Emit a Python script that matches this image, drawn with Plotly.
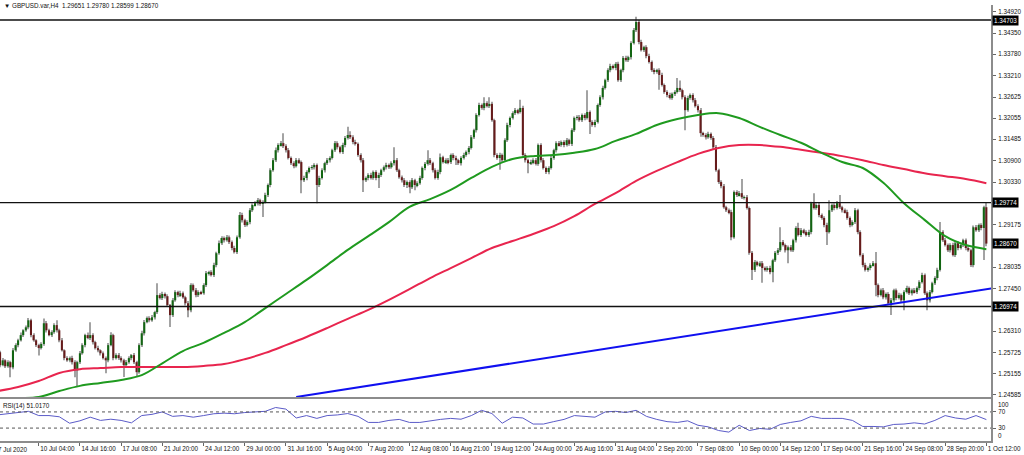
import plotly.graph_objects as go

# ---------------- data ----------------
first_open = 1.2565
closes = [
    1.2574, 1.2539, 1.2552, 1.2536, 1.2547, 1.2533, 1.2579, 1.2593, 1.2606, 1.2620, 1.2633, 1.2641, 1.2660, 1.2620, 1.2606, 1.2593,
    1.2585, 1.2596, 1.2652, 1.2633, 1.2620, 1.2628, 1.2647, 1.2633, 1.2606, 1.2579, 1.2558, 1.2552, 1.2558, 1.2547, 1.2525, 1.2547,
    1.2571, 1.2593, 1.2620, 1.2612, 1.2620, 1.2601, 1.2585, 1.2579, 1.2571, 1.2558, 1.2552, 1.2593, 1.2620, 1.2558, 1.2566, 1.2558,
    1.2552, 1.2539, 1.2547, 1.2558, 1.2566, 1.2547, 1.2520, 1.2593, 1.2625, 1.2655, 1.2666, 1.2660, 1.2668, 1.2682, 1.2728, 1.2720,
    1.2731, 1.2725, 1.2701, 1.2674, 1.2714, 1.2736, 1.2728, 1.2733, 1.2722, 1.2706, 1.2687, 1.2755, 1.2741, 1.2728, 1.2736, 1.2733,
    1.2755, 1.2787, 1.2790, 1.2782, 1.2809, 1.2841, 1.2868, 1.2882, 1.2876, 1.2884, 1.2871, 1.2855, 1.2844, 1.2884, 1.2944, 1.2930,
    1.2917, 1.2925, 1.2957, 1.2971, 1.2976, 1.2984, 1.2974, 1.2979, 1.2998, 1.3025, 1.3065, 1.3092, 1.3119, 1.3133, 1.3138, 1.3130,
    1.3119, 1.3098, 1.3084, 1.3076, 1.3092, 1.3087, 1.3038, 1.3044, 1.3060, 1.3071, 1.3073, 1.3079, 1.3025, 1.3044, 1.3065, 1.3084,
    1.3092, 1.3098, 1.3119, 1.3138, 1.3127, 1.3114, 1.3133, 1.3152, 1.3160, 1.3154, 1.3141, 1.3136, 1.3106, 1.3092, 1.3038, 1.3044,
    1.3052, 1.3044, 1.3060, 1.3044, 1.3052, 1.3065, 1.3073, 1.3079, 1.3073, 1.3084, 1.3092, 1.3065, 1.3046, 1.3038, 1.3025, 1.3033,
    1.3019, 1.3038, 1.3025, 1.3030, 1.3044, 1.3071, 1.3082, 1.3092, 1.3084, 1.3065, 1.3044, 1.3060, 1.3100, 1.3087, 1.3092, 1.3087,
    1.3106, 1.3098, 1.3092, 1.3084, 1.3098, 1.3106, 1.3114, 1.3125, 1.3154, 1.3173, 1.3214, 1.3241, 1.3233, 1.3246, 1.3238, 1.3244,
    1.3200, 1.3106, 1.3098, 1.3106, 1.3092, 1.3146, 1.3187, 1.3206, 1.3219, 1.3227, 1.3222, 1.3233, 1.3106, 1.3092, 1.3084, 1.3087,
    1.3092, 1.3082, 1.3133, 1.3092, 1.3071, 1.3060, 1.3071, 1.3098, 1.3119, 1.3138, 1.3133, 1.3141, 1.3133, 1.3146, 1.3136, 1.3173,
    1.3206, 1.3208, 1.3200, 1.3214, 1.3206, 1.3222, 1.3195, 1.3187, 1.3195, 1.3241, 1.3262, 1.3287, 1.3308, 1.3335, 1.3346, 1.3341,
    1.3352, 1.3308, 1.3335, 1.3368, 1.3362, 1.3370, 1.3408, 1.3443, 1.3465, 1.3411, 1.3389, 1.3397, 1.3373, 1.3357, 1.3335, 1.3330,
    1.3335, 1.3322, 1.3295, 1.3276, 1.3268, 1.3260, 1.3271, 1.3276, 1.3287, 1.3281, 1.3262, 1.3227, 1.3260, 1.3268, 1.3254, 1.3238,
    1.3227, 1.3165, 1.3160, 1.3154, 1.3163, 1.3152, 1.3127, 1.3065, 1.3033, 1.3022, 1.2965, 1.2957, 1.2952, 1.2884, 1.3006, 1.2998,
    1.3003, 1.2992, 1.2992, 1.2963, 1.2842, 1.2796, 1.2817, 1.2809, 1.2814, 1.2801, 1.2796, 1.2801, 1.2790, 1.2822, 1.2842, 1.2849,
    1.2871, 1.2863, 1.2849, 1.2857, 1.2849, 1.2876, 1.2909, 1.2890, 1.2903, 1.2898, 1.2890, 1.2898, 1.2976, 1.2963, 1.2971, 1.2944,
    1.2936, 1.2917, 1.2898, 1.2957, 1.2971, 1.2963, 1.2976, 1.2965, 1.2957, 1.2952, 1.2936, 1.2917, 1.2925, 1.2957, 1.2898, 1.2836,
    1.2809, 1.2796, 1.2801, 1.2809, 1.2814, 1.2755, 1.2728, 1.2741, 1.2722, 1.2731, 1.2706, 1.2714, 1.2741, 1.2720, 1.2728, 1.2714,
    1.2736, 1.2747, 1.2733, 1.2741, 1.2736, 1.2747, 1.2763, 1.2782, 1.2733, 1.2714, 1.2736, 1.2760, 1.2774, 1.2796, 1.2898, 1.2876,
    1.2863, 1.2849, 1.2863, 1.2836, 1.2868, 1.2855, 1.2863, 1.2876, 1.2855, 1.2849, 1.2809, 1.2911, 1.2903, 1.2917, 1.2909, 1.29651,
    1.28670,
]
upper_wick_pips = [
    5, 4, 6, 3, 5, 4, 6, 5, 4, 7, 3, 5, 6, 4, 5, 3,
    4, 5, 13, 6, 4, 5, 5, 13, 4, 6, 3, 5, 4, 6, 5, 4,
    6, 5, 4, 7, 35, 5, 4, 6, 3, 5, 4, 6, 8, 4, 5, 6,
    5, 4, 6, 5, 3, 6, 4, 5, 7, 6, 4, 5, 6, 4, 32, 5,
    6, 4, 5, 3, 6, 5, 4, 7, 5, 4, 6, 5, 4, 6, 5, 4,
    5, 6, 4, 5, 6, 4, 7, 5, 4, 6, 5, 4, 6, 5, 8, 6,
    4, 5, 6, 4, 5, 6, 4, 5, 6, 4, 5, 6, 7, 5, 6, 27,
    5, 6, 4, 5, 6, 5, 4, 6, 5, 4, 6, 5, 4, 6, 5, 4,
    6, 5, 4, 6, 5, 4, 6, 5, 22, 10, 5, 6, 4, 5, 6, 4,
    5, 6, 4, 5, 6, 4, 5, 6, 4, 5, 35, 6, 4, 5, 6, 4,
    5, 6, 4, 5, 6, 4, 5, 27, 6, 4, 5, 6, 10, 4, 5, 6,
    4, 5, 6, 4, 5, 6, 4, 5, 6, 4, 5, 6, 4, 16, 5, 18,
    6, 4, 5, 6, 4, 5, 6, 4, 5, 6, 4, 22, 6, 5, 4, 6,
    5, 6, 4, 5, 6, 4, 5, 6, 4, 5, 6, 4, 5, 6, 4, 5,
    4, 5, 6, 4, 5, 59, 4, 5, 6, 4, 5, 6, 4, 5, 6, 4,
    5, 6, 4, 5, 6, 4, 5, 6, 14, 5, 6, 4, 5, 6, 4, 5,
    4, 5, 6, 4, 5, 6, 4, 5, 27, 20, 4, 5, 6, 4, 5, 6,
    5, 6, 4, 5, 6, 4, 5, 6, 4, 5, 6, 4, 5, 6, 4, 5,
    6, 38, 5, 6, 4, 5, 6, 4, 5, 6, 4, 5, 6, 4, 5, 6,
    40, 6, 4, 5, 6, 4, 5, 14, 6, 4, 5, 6, 4, 27, 5, 6,
    4, 5, 6, 27, 4, 5, 6, 22, 4, 5, 6, 4, 5, 6, 4, 5,
    5, 6, 4, 5, 6, 30, 4, 5, 6, 4, 5, 6, 4, 5, 6, 4,
    5, 6, 4, 5, 6, 4, 5, 6, 4, 5, 6, 4, 5, 6, 27, 5,
    6, 4, 5, 6, 4, 5, 6, 4, 5, 6, 4, 5, 6, 4, 5, 4,
    13,
]
lower_wick_pips = [
    4, 6, 3, 5, 4, 27, 5, 4, 6, 3, 5, 4, 5, 6, 4, 5,
    20, 4, 5, 6, 3, 5, 4, 6, 5, 3, 6, 4, 5, 6, 19, 43,
    5, 4, 6, 3, 5, 6, 4, 5, 6, 4, 35, 5, 3, 6, 4, 5,
    6, 32, 5, 4, 6, 5, 11, 4, 5, 6, 3, 5, 4, 6, 5, 4,
    5, 6, 4, 32, 5, 4, 6, 5, 4, 6, 19, 5, 4, 6, 5, 4,
    4, 5, 6, 4, 5, 6, 4, 5, 6, 4, 5, 6, 4, 5, 4, 6,
    5, 4, 6, 5, 4, 6, 5, 35, 4, 5, 6, 4, 5, 6, 4, 5,
    6, 4, 5, 6, 4, 5, 35, 5, 6, 4, 5, 6, 49, 5, 4, 6,
    5, 6, 4, 5, 6, 4, 5, 6, 4, 5, 6, 4, 5, 6, 32, 5,
    6, 4, 5, 6, 27, 5, 4, 6, 5, 4, 6, 5, 4, 6, 5, 8,
    16, 5, 14, 6, 4, 5, 6, 4, 5, 6, 4, 5, 6, 4, 5, 6,
    5, 6, 13, 5, 6, 4, 5, 6, 4, 5, 6, 4, 5, 6, 4, 5,
    4, 6, 5, 32, 6, 4, 5, 6, 4, 5, 6, 4, 5, 6, 27, 5,
    6, 4, 5, 6, 4, 5, 6, 4, 5, 6, 4, 5, 6, 4, 5, 6,
    5, 6, 4, 5, 6, 4, 32, 5, 6, 4, 5, 6, 4, 5, 6, 4,
    6, 4, 5, 6, 4, 5, 6, 4, 5, 6, 4, 5, 6, 4, 5, 6,
    5, 40, 4, 5, 6, 4, 5, 6, 4, 5, 6, 54, 4, 5, 6, 4,
    6, 10, 5, 6, 4, 5, 6, 4, 5, 6, 4, 5, 6, 8, 4, 5,
    4, 5, 6, 4, 5, 27, 6, 4, 5, 40, 4, 5, 6, 27, 5, 6,
    5, 4, 6, 35, 4, 5, 6, 4, 5, 6, 4, 5, 6, 4, 5, 6,
    5, 6, 35, 4, 5, 6, 4, 5, 6, 4, 5, 6, 4, 5, 6, 4,
    6, 4, 5, 6, 4, 30, 6, 4, 5, 6, 4, 32, 5, 6, 4, 5,
    27, 4, 5, 6, 4, 5, 6, 4, 5, 27, 6, 4, 5, 6, 4, 5,
    4, 5, 6, 4, 5, 6, 4, 5, 6, 4, 5, 6, 4, 5, 6, 86,
    7,
]

ma_bars = list(range(0, 385, 8))
ma_fast = [
    1.2450, 1.2450, 1.2453, 1.2469, 1.2483, 1.2491, 1.2499, 1.2512, 1.2544, 1.2577,
    1.2599, 1.2626, 1.2655, 1.2693, 1.2731, 1.2769, 1.2809, 1.2850, 1.2887, 1.2925,
    1.2966, 1.2987, 1.3012, 1.3044, 1.3074, 1.3095, 1.3103, 1.3106, 1.3112, 1.3122,
    1.3144, 1.3163, 1.3187, 1.3203, 1.3214, 1.3219, 1.3206, 1.3182, 1.3160, 1.3139,
    1.3112, 1.3087, 1.3071, 1.3031, 1.2976, 1.2931, 1.2887, 1.2863, 1.2852,
]
ma_slow = [
    1.2469, 1.2480, 1.2496, 1.2518, 1.2528, 1.2531, 1.2534, 1.2534, 1.2534, 1.2534,
    1.2537, 1.2542, 1.2555, 1.2572, 1.2593, 1.2615, 1.2639, 1.2664, 1.2688, 1.2715,
    1.2744, 1.2774, 1.2801, 1.2828, 1.2855, 1.2874, 1.2893, 1.2914, 1.2941, 1.2974,
    1.3003, 1.3036, 1.3063, 1.3087, 1.3109, 1.3125, 1.3133, 1.3133, 1.3128, 1.3120,
    1.3112, 1.3103, 1.3092, 1.3079, 1.3068, 1.3057, 1.3049, 1.3041, 1.3030,
]

rsi_bars = list(range(0, 385, 4))
rsi_values = [
    62.6, 66, 68.5, 71.5, 61, 61, 58, 42, 48, 57,
    49, 52, 49, 43, 61, 64, 70, 59, 61, 57,
    61, 65.5, 67, 65.5, 68.5, 70, 71.5, 81, 77, 55,
    61, 54, 61, 62.6, 66, 59, 44, 44, 49, 51.5,
    44, 44, 48, 51.5, 54, 52, 61, 74, 66, 42,
    57, 55, 40, 40, 46, 51.5, 61, 59, 57, 70,
    71.5, 68.5, 74, 59, 51.5, 46, 44, 48, 37, 33,
    24, 20, 37, 24, 29, 27, 39, 44, 48, 59,
    54, 54, 54, 49, 34, 34, 33, 39, 40, 43,
    40, 49, 61, 55, 52, 61, 51.017,
]
rsi_levels = [70, 30]
rsi_ticks = [70, 30]
rsi_edge_labels = ["100", "0"]

levels = [1.34703, 1.29774, 1.26974]
trend_bars = [116, 386]
trend_prices = [1.2453, 1.2746]

price_ticks = [1.34920, 1.34350, 1.33780, 1.33210, 1.32625, 1.32055, 1.31485, 1.30900,
               1.30330, 1.29175, 1.28035, 1.27450, 1.26310, 1.25725, 1.25155, 1.24585]
boxed_prices = [1.34703, 1.29774, 1.28670, 1.26974]

date_tick_bars = list(range(16, 385, 16))
date_tick_labels = ["10 Jul 04:00", "14 Jul 16:00", "17 Jul 08:00", "21 Jul 20:00", "24 Jul 12:00",
                    "29 Jul 00:00", "31 Jul 16:00", "5 Aug 04:00", "7 Aug 20:00", "12 Aug 08:00",
                    "16 Aug 21:00", "19 Aug 12:00", "24 Aug 00:00", "26 Aug 16:00", "31 Aug 04:00",
                    "2 Sep 20:00", "7 Sep 08:00", "10 Sep 00:00", "14 Sep 12:00", "17 Sep 04:00",
                    "21 Sep 16:00", "24 Sep 08:00", "28 Sep 20:00", "1 Oct 12:00"]
first_date_label = "7 Jul 2020"
title_text = "\u25bc GBPUSD.var,H4  1.29651 1.29780 1.28599 1.28670"
rsi_label = "RSI(14) 51.0170"

# ---------------- derived OHLC ----------------
n = len(closes)
bars = list(range(n))
opens = [first_open] + closes[:-1]
highs = [max(o, c) + u / 10000 for o, c, u in zip(opens, closes, upper_wick_pips)]
lows = [min(o, c) - d / 10000 for o, c, d in zip(opens, closes, lower_wick_pips)]
body_base = [min(o, c) for o, c in zip(opens, closes)]
body_h = [max(abs(c - o), 0.00004) for o, c in zip(opens, closes)]
body_col = ["#126512" if c >= o else "#661b1b" for o, c in zip(opens, closes)]

FONT = "Liberation Sans"
GRID = "#8c8c8c"
FS = 6.3

fig = go.Figure()
fig.add_trace(go.Bar(x=bars, y=[h - l for h, l in zip(highs, lows)], base=lows, width=0.4,
                     marker=dict(color="#a3a3a3", line=dict(width=0)), xaxis="x", yaxis="y"))
fig.add_trace(go.Bar(x=bars, y=body_h, base=body_base, width=0.8,
                     marker=dict(color=body_col, line=dict(width=0)), xaxis="x", yaxis="y"))
fig.add_trace(go.Scatter(x=ma_bars, y=ma_slow, mode="lines", line=dict(color="#e8254e", width=2, shape="spline"),
                         xaxis="x", yaxis="y"))
fig.add_trace(go.Scatter(x=ma_bars, y=ma_fast, mode="lines", line=dict(color="#1f9a1f", width=2, shape="spline"),
                         xaxis="x", yaxis="y"))
fig.add_trace(go.Scatter(x=trend_bars, y=trend_prices, mode="lines", line=dict(color="#1010f0", width=2),
                         xaxis="x", yaxis="y"))
fig.add_trace(go.Scatter(x=rsi_bars, y=rsi_values, mode="lines", line=dict(color="#5b5bc8", width=1),
                         xaxis="x2", yaxis="y2"))

shapes = []
for lv in levels:
    shapes.append(dict(type="line", xref="x domain", yref="y", x0=0, x1=1, y0=lv, y1=lv,
                       line=dict(color="#111111", width=1.4)))
for lv in rsi_levels:
    shapes.append(dict(type="line", xref="x2 domain", yref="y2", x0=0, x1=1, y0=lv, y1=lv,
                       line=dict(color="#555555", width=1, dash="dot")))

annotations = []
for p in boxed_prices:
    annotations.append(dict(xref="paper", x=1, xanchor="left", xshift=1, yref="y", y=p, yanchor="middle",
                            text=f"{p:.5f}", showarrow=False, bgcolor="#000000", borderpad=1,
                            font=dict(family=FONT, size=FS, color="white")))
annotations.append(dict(xref="paper", x=0, xanchor="left", xshift=2, yref="paper", y=1, yanchor="middle",
                        text=title_text, showarrow=False, font=dict(family=FONT, size=FS, color="#111")))
annotations.append(dict(xref="paper", x=0, xanchor="left", xshift=1, yref="y2 domain", y=1, yanchor="top", yshift=-1,
                        text=rsi_label, showarrow=False, font=dict(family=FONT, size=FS, color="#111")))
annotations.append(dict(xref="paper", x=0, xanchor="left", xshift=-4, yref="paper", y=0, yanchor="top", yshift=-3,
                        text=first_date_label, showarrow=False, font=dict(family=FONT, size=FS, color="#111")))
annotations.append(dict(xref="paper", x=1, xanchor="left", xshift=5, yref="y2 domain", y=1, yanchor="top", yshift=0,
                        text=rsi_edge_labels[0], showarrow=False, font=dict(family=FONT, size=FS, color="#111")))
annotations.append(dict(xref="paper", x=1, xanchor="left", xshift=5, yref="y2 domain", y=0, yanchor="bottom", yshift=0,
                        text=rsi_edge_labels[1], showarrow=False, font=dict(family=FONT, size=FS, color="#111")))

xr = [0.97, 385.8]
fig.update_layout(
    width=1024, height=455,
    margin=dict(l=0, r=33, t=5, b=14, autoexpand=False),
    paper_bgcolor="white", plot_bgcolor="white",
    showlegend=False, barmode="overlay",
    shapes=shapes, annotations=annotations,
    xaxis=dict(domain=[0, 1], range=xr, anchor="y", showticklabels=False, showgrid=False, zeroline=False,
               showline=True, linecolor=GRID, linewidth=2, ticks="", automargin=False),
    yaxis=dict(domain=[0.1009, 1], range=[1.24530, 1.35108], side="right", anchor="x",
               tickvals=price_ticks, ticktext=[f"{v:.5f}" for v in price_ticks],
               ticks="outside", ticklen=3, tickcolor="#666", ticklabelstandoff=1,
               tickfont=dict(family=FONT, size=FS, color="#111"), automargin=False,
               showgrid=False, zeroline=False, showline=True, linecolor=GRID, linewidth=2),
    xaxis2=dict(domain=[0, 1], range=xr, anchor="y2", matches="x",
                tickvals=date_tick_bars, ticktext=date_tick_labels, tickangle=0,
                ticks="outside", ticklen=3, tickcolor="#666", ticklabelposition="outside right",
                tickfont=dict(family=FONT, size=FS, color="#111"), automargin=False,
                showgrid=False, zeroline=False, showline=True, mirror=True, linecolor=GRID, linewidth=2),
    yaxis2=dict(domain=[0, 0.0963], range=[-2, 102], side="right", anchor="x2",
                tickvals=rsi_ticks, ticktext=[str(v) for v in rsi_ticks],
                ticks="outside", ticklen=3, tickcolor="#666", ticklabelstandoff=1,
                tickfont=dict(family=FONT, size=FS, color="#111"), automargin=False,
                showgrid=False, zeroline=False, showline=True, linecolor=GRID, linewidth=2),
)

fig.write_html("out.html", config={"displayModeBar": False},
               post_script="document.body.style.margin='0px';document.body.style.overflow='hidden';")
